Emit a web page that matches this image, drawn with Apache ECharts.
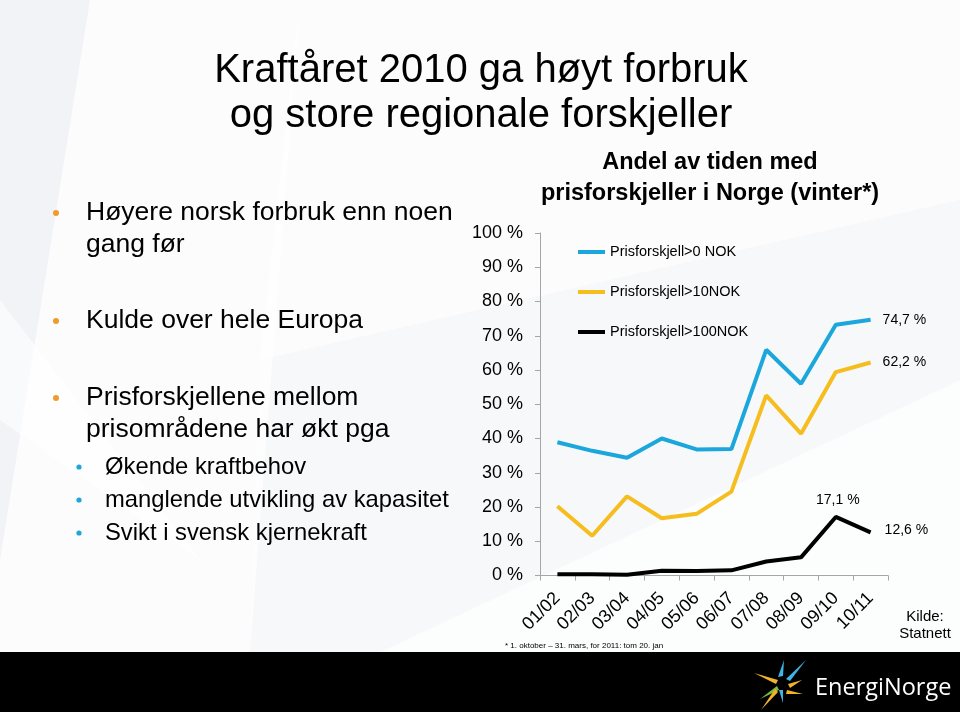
<!DOCTYPE html>
<html>
<head>
<meta charset="utf-8">
<script src="https://cdn.jsdelivr.net/npm/echarts@6/dist/echarts.min.js"></script>
<style>
html,body{margin:0;padding:0;background:#fff;}
#main{width:960px;height:712px;}
</style>
</head>
<body>
<div id="main"></div>
<script>
var categories = ['01/02','02/03','03/04','04/05','05/06','06/07','07/08','08/09','09/10','10/11'];
var seriesNames = ['Prisforskjell>0 NOK','Prisforskjell>10NOK','Prisforskjell>100NOK'];
var valsOver0 = [38.9, 36.4, 34.4, 40.0, 36.8, 36.9, 65.9, 56.0, 73.2, 74.7];
var valsOver10 = [20.2, 11.6, 23.1, 16.7, 18.0, 24.5, 52.6, 41.4, 59.4, 62.2];
var valsOver100 = [0.4, 0.4, 0.2, 1.4, 1.3, 1.5, 4.1, 5.3, 17.1, 12.6];
var yTicks = [0,10,20,30,40,50,60,70,80,90,100];

var FONT = 'Liberation Sans, Arial, sans-serif';
function fmt(v){ return String(v).replace('.', ',') + ' %'; }

function withLabels(arr, rules){
  return arr.map(function(v, i){
    if (rules[i]) {
      return {value: v, label: Object.assign({show: true, formatter: fmt(v), color: '#000', fontSize: 14, fontFamily: FONT}, rules[i])};
    }
    return v;
  });
}
var last = arr => arr.length - 1;

var chart = echarts.init(document.getElementById('main'), null, {renderer: 'canvas'});

var r0 = {}; r0[last(valsOver0)] = {position: 'right', distance: 12};
var r10 = {}; r10[last(valsOver10)] = {position: 'right', distance: 12};
var r100 = {}; r100[8] = {position: 'top', distance: 10, offset: [2, 0]}; r100[last(valsOver100)] = {position: 'right', distance: 14, offset: [0, -2]};

var bullets = [
  {t: 'Høyere norsk forbruk enn noen', x: 86, y: 213, s: 26.5, b: 'o'},
  {t: 'gang før', x: 86, y: 245, s: 26.5},
  {t: 'Kulde over hele Europa', x: 86, y: 321, s: 26.5, b: 'o'},
  {t: 'Prisforskjellene mellom', x: 86, y: 398, s: 26.5, b: 'o'},
  {t: 'prisområdene har økt pga', x: 86, y: 430, s: 26.5},
  {t: 'Økende kraftbehov', x: 105, y: 467, s: 23.8, b: 'b'},
  {t: 'manglende utvikling av kapasitet', x: 105, y: 500, s: 23.8, b: 'b'},
  {t: 'Svikt i svensk kjernekraft', x: 105, y: 533, s: 23.8, b: 'b'}
];

var graphics = [
  // background rays
  {type: 'polygon', silent: true, z: -10, shape: {points: [[0,0],[960,0],[960,652],[0,652]]}, style: {fill: '#f1f3f6'}},
  {type: 'polygon', silent: true, z: -9, shape: {points: [[90,0],[300,0],[250,652],[0,652],[0,560]]}, style: {fill: 'rgba(255,255,255,0.75)'}},
  {type: 'polygon', silent: true, z: -9, shape: {points: [[300,0],[960,0],[960,200],[260,360]]}, style: {fill: 'rgba(255,255,255,0.75)'}},
  {type: 'polygon', silent: true, z: -9, shape: {points: [[380,652],[960,380],[960,652]]}, style: {fill: 'rgba(255,255,255,0.8)'}},
  {type: 'polygon', silent: true, z: -9, shape: {points: [[260,360],[960,200],[960,380],[380,652],[250,652]]}, style: {fill: 'rgba(255,255,255,0.45)'}},
  {type: 'polygon', silent: true, z: -9, shape: {points: [[0,300],[0,420],[200,560]]}, style: {fill: 'rgba(255,255,255,0.6)'}},
  // footer band
  {type: 'rect', silent: true, z: 1, shape: {x: 0, y: 652, width: 960, height: 60}, style: {fill: '#000'}},
  // slide title
  {type: 'text', x: 481, y: 48, style: {text: 'Kraftåret 2010 ga høyt forbruk\nog store regionale forskjeller', fontSize: 40, fontFamily: FONT, fill: '#000', align: 'center', lineHeight: 45}},
  // chart title
  {type: 'text', x: 710, y: 147, style: {text: 'Andel av tiden med\nprisforskjeller i Norge (vinter*)', fontSize: 23.5, fontWeight: 'bold', fontFamily: FONT, fill: '#000', align: 'center', lineHeight: 31}},
  // footnote
  {type: 'text', x: 505, y: 642, style: {text: '* 1. oktober – 31. mars, for 2011: tom 20. jan', fontSize: 8, fontFamily: FONT, fill: '#000'}},
  // source
  {type: 'text', x: 925, y: 608, style: {text: 'Kilde:\nStatnett', fontSize: 15, fontFamily: FONT, fill: '#000', align: 'center', lineHeight: 17}},
  // logo text
  {type: 'text', x: 815, y: 676, z: 2, style: {text: 'EnergiNorge', fontSize: 23.5, fontFamily: 'Open Sans, DejaVu Sans, sans-serif', fill: '#fff'}},
  // logo shards
  {type: 'polygon', z: 2, shape: {points: [[778,677],[784,660],[783,676]]}, style: {fill: '#3fb5e5'}},
  {type: 'polygon', z: 2, shape: {points: [[786,679],[806,660],[790,681]]}, style: {fill: '#3fb5e5'}},
  {type: 'polygon', z: 2, shape: {points: [[754,673],[778,680],[776,684]]}, style: {fill: '#f2b32a'}},
  {type: 'polygon', z: 2, shape: {points: [[788,684],[802,680],[790,688]]}, style: {fill: '#f2b32a'}},
  {type: 'polygon', z: 2, shape: {points: [[760,699],[777,686],[779,690]]}, style: {fill: '#7dbb3c'}},
  {type: 'polygon', z: 2, shape: {points: [[761,710],[775,689],[778,692]]}, style: {fill: '#f2b32a'}},
  {type: 'polygon', z: 2, shape: {points: [[779,690],[783,690],[783,703]]}, style: {fill: '#3fb5e5'}},
  {type: 'polygon', z: 2, shape: {points: [[787,690],[803,694],[786,694]]}, style: {fill: '#f2b32a'}}
];

bullets.forEach(function(b){
  graphics.push({type: 'text', x: b.x, y: b.y, style: {text: b.t, fontSize: b.s, fontFamily: FONT, fill: '#000', verticalAlign: 'middle'}});
  if (b.b === 'o') graphics.push({type: 'circle', shape: {cx: 56, cy: b.y, r: 3}, style: {fill: '#ef9b2d'}});
  if (b.b === 'b') graphics.push({type: 'circle', shape: {cx: 79, cy: b.y, r: 2.6}, style: {fill: '#1ea6d8'}});
});

function lineSeries(name, data, color){
  return {
    name: name, type: 'line', data: data,
    symbol: 'circle', symbolSize: 0.01, showSymbol: true,
    lineStyle: {width: 4, color: color}, itemStyle: {color: color}, z: 3
  };
}

var option = {
  animation: false,
  backgroundColor: '#ffffff',
  grid: {left: 540, right: 72, top: 233, bottom: 136.5, containLabel: false},
  legend: {
    orient: 'vertical', left: 578, top: 244.5, padding: 0, itemGap: 25, icon: 'rect', itemWidth: 27, itemHeight: 4,
    textStyle: {fontSize: 14.5, fontFamily: FONT, color: '#000'},
    data: seriesNames
  },
  xAxis: {
    type: 'category', data: categories, boundaryGap: true,
    axisLine: {lineStyle: {color: '#a6a6a6', width: 1}},
    axisTick: {show: true, alignWithLabel: false, length: 5, lineStyle: {color: '#a6a6a6'}},
    axisLabel: {rotate: 45, fontSize: 18, fontFamily: FONT, color: '#000', margin: 20, interval: 0}
  },
  yAxis: {
    type: 'value', min: yTicks[0], max: yTicks[yTicks.length-1], interval: 10,
    splitLine: {show: false},
    axisLine: {show: true, lineStyle: {color: '#a6a6a6', width: 1}},
    axisTick: {show: true, length: 5, lineStyle: {color: '#a6a6a6'}},
    axisLabel: {formatter: '{value} %', fontSize: 18, fontFamily: FONT, color: '#000', margin: 17}
  },
  series: [
    lineSeries(seriesNames[0], withLabels(valsOver0, r0), '#1ba7dc'),
    lineSeries(seriesNames[1], withLabels(valsOver10, r10), '#f6bd1e'),
    lineSeries(seriesNames[2], withLabels(valsOver100, r100), '#000000')
  ],
  graphic: graphics
};
chart.setOption(option);
</script>
</body>
</html>
